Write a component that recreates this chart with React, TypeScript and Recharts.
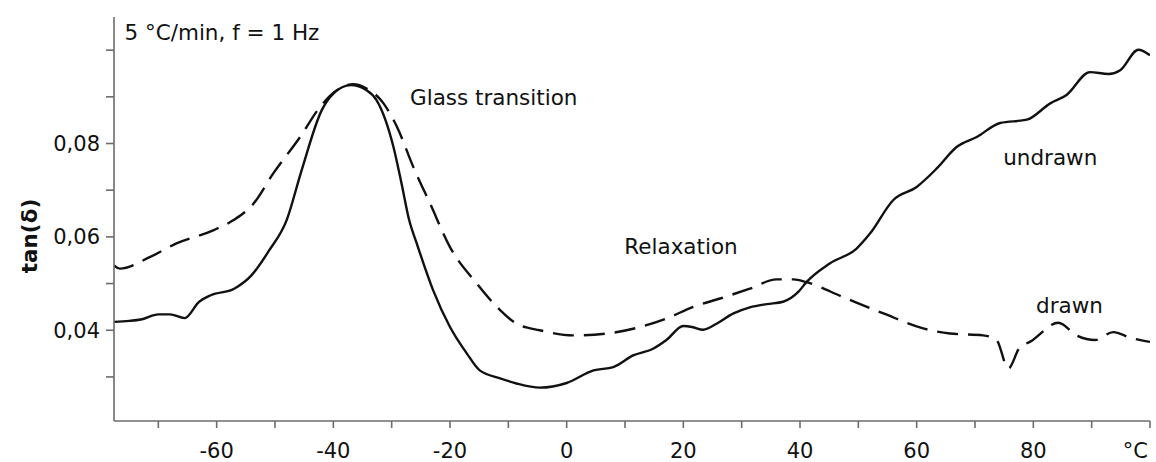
import React from 'react';
import { LineChart, Line, XAxis, YAxis, ReferenceDot } from 'recharts';

// temperature (°C) and tan(δ), one pair of arrays per curve
const undrawnTemp = [
  -77.6, -75, -73, -70, -68, -65.5, -63, -61, -57, -54, -51, -48, -45.5, -42, -40, -37,
  -34.3, -32.6, -29.7, -28.3, -27, -25.7, -22.9, -20, -17.1, -14.9, -11.4, -8.6, -4.6, 0,
  4.6, 8, 11.4, 14.9, 17.1, 20, 21.5, 23.4, 25.7, 28.6, 31.4, 34.3, 37.1, 39.7, 41.1, 45.1,
  49.7, 52, 56, 60, 63.4, 66.9, 70.3, 74.3, 78.9, 82.9, 85.7, 89.7, 92.9, 94.9, 98, 100,
];
const undrawnTan = [
  0.0418, 0.042, 0.0423, 0.0434, 0.0434, 0.0426, 0.0461, 0.0475, 0.0489, 0.0518, 0.0571,
  0.0636, 0.074, 0.0871, 0.0907, 0.0925, 0.0914, 0.0893, 0.0793, 0.0714, 0.0636, 0.0586,
  0.0486, 0.0407, 0.035, 0.0314, 0.0297, 0.0286, 0.0277, 0.0287, 0.0314, 0.0321, 0.0346,
  0.0361, 0.0379, 0.0409, 0.0407, 0.0401, 0.0414, 0.0436, 0.0449, 0.0456, 0.0461, 0.0482,
  0.0503, 0.0543, 0.0575, 0.0607, 0.0679, 0.0707, 0.0746, 0.0793, 0.0814, 0.0844, 0.0851,
  0.0886, 0.0904, 0.0953, 0.0949, 0.0957, 0.1001, 0.0989,
];

const drawnTemp = [
  -77.6, -76.6, -71.4, -66.9, -60.6, -57.1, -53.7, -50.3, -45.7, -42.3, -39.4, -36.6, -34.3,
  -31.4, -29.1, -26.3, -23.4, -20, -15.4, -11.4, -8.6, -4.6, 1.1, 6.9, 12.6, 17.1, 21.7, 26.3,
  31.4, 36, 38.9, 41.1, 47.4, 54.3, 61.1, 65.7, 71.4, 73.7, 75.7, 77.7, 79.4, 84.3, 87.4, 90.6,
  93.7, 96.6, 100,
];
const drawnTan = [
  0.0539, 0.0532, 0.0557, 0.0586, 0.0614, 0.0636, 0.0671, 0.0736, 0.0814, 0.0878, 0.0914,
  0.0927, 0.0918, 0.0886, 0.0836, 0.075, 0.0671, 0.0578, 0.05, 0.0443, 0.0414, 0.04, 0.0389,
  0.0393, 0.0407, 0.0425, 0.045, 0.0468, 0.0489, 0.0509, 0.0509, 0.0503, 0.0471, 0.0436,
  0.0404, 0.0393, 0.0389, 0.0379, 0.0318, 0.0364, 0.0375, 0.0416, 0.0389, 0.0379, 0.0396,
  0.0384, 0.0375,
];

const xTicks = [-70, -60, -50, -40, -30, -20, -10, 0, 10, 20, 30, 40, 50, 60, 70, 80, 90, 100];
const yTicks = [0.03, 0.04, 0.05, 0.06, 0.07, 0.08, 0.09, 0.1];
const yLabelled = [0.04, 0.06, 0.08];

const notes = [
  { text: '5 °C/min, f = 1 Hz', t: -59.1, v: 0.1039 },
  { text: 'Glass transition', t: -12.5, v: 0.0899 },
  { text: 'Relaxation', t: 19.6, v: 0.0579 },
  { text: 'undrawn', t: 82.9, v: 0.0771 },
  { text: 'drawn', t: 86.2, v: 0.0454 },
];

const undrawn = undrawnTemp.map((t, i) => ({ t, v: undrawnTan[i] }));
const drawn = drawnTemp.map((t, i) => ({ t, v: drawnTan[i] }));

const FONT = '"DejaVu Sans", Verdana, sans-serif';
const INK = '#111';
const AXIS = '#6c6c6c';

const XTick = (props: any) => {
  const { x, y, payload } = props;
  const val = payload.value;
  let label = '';
  if (val === 100) label = '°C';
  else if (val % 20 === 0) label = String(val);
  if (!label) return null;
  return (
    <text
      x={val === 100 ? x + 4 : x}
      y={y}
      dy="0.71em"
      textAnchor={val === 100 ? 'end' : 'middle'}
      fill={INK}
      fontSize={21}
      fontFamily={FONT}
    >
      {label}
    </text>
  );
};

const yFormat = (v: number) =>
  yLabelled.some((l) => Math.abs(l - v) < 1e-6) ? v.toFixed(2).replace('.', ',') : '';

const YTitle = () => (
  <text
    transform="translate(29,236) rotate(-90)"
    textAnchor="middle"
    dominantBaseline="central"
    fill={INK}
    fontSize={21.5}
    fontWeight="bold"
    fontFamily={FONT}
  >
    tan(δ)
  </text>
);

export default function App() {
  return (
    <div style={{ position: 'absolute', left: 0, top: 0, width: 1156, height: 462, background: '#fff' }}>
      <LineChart width={1156} height={462} margin={{ top: 17, right: 6, bottom: 0, left: 0 }}>
        <XAxis
          type="number"
          dataKey="t"
          domain={[-77.6, 100]}
          ticks={xTicks}
          allowDataOverflow
          height={41}
          stroke={AXIS}
          strokeWidth={1.6}
          tickSize={7}
          tickMargin={15}
          tick={<XTick />}
        />
        <YAxis
          type="number"
          dataKey="v"
          domain={[0.02056, 0.1071]}
          ticks={yTicks}
          allowDataOverflow
          width={114}
          stroke={AXIS}
          strokeWidth={1.6}
          tickSize={8}
          tickMargin={6}
          tickFormatter={yFormat}
          tick={{ fill: INK, fontSize: 21, fontFamily: FONT }}
          label={{ content: <YTitle /> }}
        />
        <Line
          data={undrawn}
          dataKey="v"
          type="monotone"
          stroke={INK}
          strokeWidth={2.4}
          dot={false}
          activeDot={false}
          isAnimationActive={false}
        />
        <Line
          data={drawn}
          dataKey="v"
          type="monotone"
          stroke={INK}
          strokeWidth={2.4}
          strokeDasharray="21 10"
          dot={false}
          activeDot={false}
          isAnimationActive={false}
        />
        {notes.map((n) => (
          <ReferenceDot
            key={n.text}
            x={n.t}
            y={n.v}
            r={0}
            fill="none"
            stroke="none"
            ifOverflow="visible"
            label={{ value: n.text, position: 'center', fill: INK, fontSize: 21.5, fontFamily: FONT }}
          />
        ))}
      </LineChart>
    </div>
  );
}
